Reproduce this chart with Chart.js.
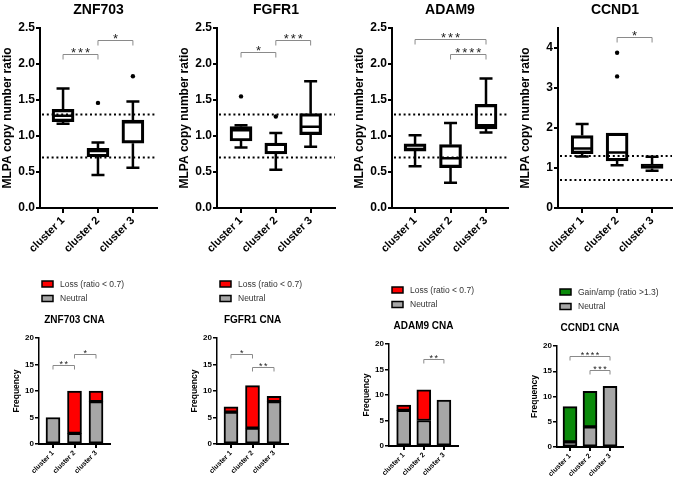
<!DOCTYPE html>
<html>
<head>
<meta charset="utf-8">
<script src="https://cdn.jsdelivr.net/npm/chart.js@4.4.0/dist/chart.umd.min.js"></script>
<style>
html, body { margin: 0; padding: 0; background: #fff; width: 677px; height: 480px; overflow: hidden; position: relative; }
canvas { position: absolute; }
</style>
</head>
<body>
<canvas id="znfBox"></canvas>
<canvas id="fgfBox"></canvas>
<canvas id="adamBox"></canvas>
<canvas id="ccnBox"></canvas>
<canvas id="znfCna"></canvas>
<canvas id="fgfCna"></canvas>
<canvas id="adamCna"></canvas>
<canvas id="ccnCna"></canvas>
<script>
const clusters = ['cluster 1', 'cluster 2', 'cluster 3'];
const cutoffs = [0.7, 1.3];

// MLPA copy number ratio, box stats per cluster
const znf703Min = [1.17, 0.46, 0.56];
const znf703Q1 = [1.20, 0.71, 0.90];
const znf703Med = [1.28, 0.79, 1.19];
const znf703Q3 = [1.37, 0.83, 1.22];
const znf703Max = [1.66, 0.91, 1.48];
const znf703Out = [[], [1.46], [1.83]];

const fgfr1Min = [0.84, 0.53, 0.85];
const fgfr1Q1 = [0.93, 0.75, 1.02];
const fgfr1Med = [1.08, 0.77, 1.13];
const fgfr1Q3 = [1.13, 0.90, 1.31];
const fgfr1Max = [1.15, 1.04, 1.76];
const fgfr1Out = [[1.55], [1.27], []];

const adam9Min = [0.58, 0.35, 1.05];
const adam9Q1 = [0.79, 0.56, 1.10];
const adam9Med = [0.82, 0.69, 1.15];
const adam9Q3 = [0.89, 0.88, 1.44];
const adam9Max = [1.01, 1.18, 1.80];
const adam9Out = [[], [], []];

const ccnd1Min = [1.29, 1.07, 0.93];
const ccnd1Q1 = [1.36, 1.18, 0.99];
const ccnd1Med = [1.49, 1.39, 1.04];
const ccnd1Q3 = [1.81, 1.87, 1.10];
const ccnd1Max = [2.10, 1.87, 1.28];
const ccnd1Out = [[], [3.29, 3.88], []];

// significance brackets: [from, to, y level, stars]
const znf703Sig = [[1, 2, 2.14, '***'], [2, 3, 2.33, '*']];
const fgfr1Sig = [[1, 2, 2.16, '*'], [2, 3, 2.34, '***']];
const adam9Sig = [[1, 3, 2.35, '***'], [2, 3, 2.14, '****']];
const ccnd1Sig = [[2, 3, 4.28, '*']];

// CNA frequencies
const znf703Neutral = [5, 2, 8];
const znf703Loss = [0, 8, 2];
const fgfr1Neutral = [6, 3, 8];
const fgfr1Loss = [1, 8, 1];
const adam9Neutral = [7, 5, 9];
const adam9Loss = [1, 6, 0];
const ccnd1Neutral = [1, 4, 12];
const ccnd1Gain = [7, 7, 0];

const znf703CnaSig = [[1, 2, 15, '**'], [2, 3, 17, '*']];
const fgfr1CnaSig = [[1, 2, 17, '*'], [2, 3, 14.5, '**']];
const adam9CnaSig = [[2, 3, 17, '**']];
const ccnd1CnaSig = [[1, 3, 18, '****'], [2, 3, 15.2, '***']];

const FONT = '"Liberation Sans", Arial, sans-serif';
const GRAY = '#a6a6a6';
const RED = '#ff0000';
const GREEN = '#0a8a0a';

const place = (id, left, top, w, h) => {
    const c = document.getElementById(id);
    c.width = w;
    c.height = h;
    c.style.left = left + 'px';
    c.style.top = top + 'px';
    return c;
}

const sigPlugin = (pairs, tip, size, gap) => ({
    id: 'sig',
    afterDatasetsDraw(chart) {
        const { ctx, scales: { x, y } } = chart;
        ctx.save();
        pairs.forEach(([a, b, v, stars]) => {
            const x1 = x.getPixelForValue(a), x2 = x.getPixelForValue(b), py = Math.round(y.getPixelForValue(v)) + 0.5;
            ctx.strokeStyle = '#8a8a8a';
            ctx.lineWidth = 1;
            ctx.beginPath();
            ctx.moveTo(x1, py + tip);
            ctx.lineTo(x1, py);
            ctx.lineTo(x2, py);
            ctx.lineTo(x2, py + tip);
            ctx.stroke();
            ctx.fillStyle = '#222';
            ctx.font = size + 'px ' + FONT;
            ctx.textAlign = 'center';
            ctx.textBaseline = 'alphabetic';
            const mid = (x1 + x2) / 2;
            const n = stars.length;
            for (let i = 0; i < n; i++) {
                ctx.fillText('*', mid + (i - (n - 1) / 2) * gap, py - 2 + size * 0.35);
            }
        });
        ctx.restore();
    }
})

const cutoffPlugin = {
    id: 'cutoff',
    afterDatasetsDraw(chart) {
        const { ctx, chartArea, scales: { y } } = chart;
        ctx.save();
        ctx.strokeStyle = '#000';
        ctx.lineWidth = 2;
        ctx.setLineDash([2, 2.8]);
        cutoffs.forEach(v => {
            const py = y.getPixelForValue(v);
            ctx.beginPath();
            ctx.moveTo(chartArea.left + 2, py);
            ctx.lineTo(chartArea.right, py);
            ctx.stroke();
        });
        ctx.restore();
    }
}

const whiskerPlugin = (mins, q1s, meds, q3s, maxs) => ({
    id: 'whisker',
    afterDatasetsDraw(chart) {
        const { ctx, scales: { x, y } } = chart;
        ctx.save();
        ctx.strokeStyle = '#000';
        ctx.lineWidth = 2.5;
        ctx.lineCap = 'butt';
        mins.forEach((mn, i) => {
            const px = x.getPixelForValue(i + 1);
            const cap = 6.5, half = 10;
            const yMax = y.getPixelForValue(maxs[i]), yMin = y.getPixelForValue(mn);
            const yQ3 = y.getPixelForValue(q3s[i]), yQ1 = y.getPixelForValue(q1s[i]);
            ctx.beginPath();
            if (yQ3 - yMax > 1) {
                ctx.moveTo(px, yQ3); ctx.lineTo(px, yMax);
                ctx.moveTo(px - cap, yMax); ctx.lineTo(px + cap, yMax);
            }
            if (yMin - yQ1 > 1) {
                ctx.moveTo(px, yQ1); ctx.lineTo(px, yMin);
                ctx.moveTo(px - cap, yMin); ctx.lineTo(px + cap, yMin);
            }
            const ym = y.getPixelForValue(meds[i]);
            ctx.moveTo(px - half, ym); ctx.lineTo(px + half, ym);
            ctx.stroke();
        });
        ctx.restore();
    }
})

const cnaLegend = {
    id: 'cnaLegend',
    afterDraw(chart) {
        const { ctx, chartArea } = chart;
        const items = chart.data.datasets.slice().reverse();
        ctx.save();
        items.forEach((ds, i) => {
            const bx = chartArea.left + 3, by = chartArea.top - 54 + i * 14.5;
            ctx.fillStyle = ds.backgroundColor;
            ctx.fillRect(bx, by - 3, 11, 6);
            ctx.strokeStyle = '#000';
            ctx.lineWidth = 1.5;
            ctx.strokeRect(bx, by - 3, 11, 6);
            ctx.fillStyle = '#333';
            ctx.font = '8.5px ' + FONT;
            ctx.textAlign = 'left';
            ctx.textBaseline = 'middle';
            ctx.fillText(ds.label, bx + 18, by + 0.5);
        });
        ctx.restore();
    }
}

const xAxis = (min, max, fontSize, height, tickLen) => ({
    type: 'linear',
    min: min,
    max: max,
    offset: false,
    afterBuildTicks: s => { s.ticks = [1, 2, 3].map(v => ({ value: v })); },
    afterFit: s => { s.height = height; },
    ticks: {
        autoSkip: false,
        minRotation: 45,
        maxRotation: 45,
        padding: 1,
        color: '#000',
        font: { family: FONT, size: fontSize, weight: 'bold' },
        callback: v => clusters[Math.round(v) - 1]
    },
    grid: { offset: false, drawOnChartArea: false, color: '#000', lineWidth: 2, tickLength: tickLen },
    border: { color: '#000', width: 2 }
})

const createBoxChart = (id, axisX, rightX, name, stats, outliers, sig, xr, yMax, yStep, dec) => {
    const [mins, q1s, meds, q3s, maxs] = stats;
    const canvas = place(id, axisX - 40, 0, rightX - axisX + 48, 255);
    const outPts = outliers.flatMap((arr, i) => arr.map(v => ({ x: i + 1, y: v })));
    new Chart(canvas, {
        type: 'bar',
        data: {
            datasets: [{
                label: name,
                data: q1s.map((q, i) => ({ x: i + 1, y: [q, q3s[i]] })),
                backgroundColor: 'rgba(255,255,255,0)',
                borderColor: '#000',
                borderWidth: 2.5,
                borderSkipped: false,
                barThickness: 22
            }, {
                type: 'scatter',
                label: 'outliers',
                data: outPts,
                pointRadius: 2.2,
                pointBackgroundColor: '#000',
                pointBorderWidth: 0
            }]
        },
        options: {
            responsive: false,
            animation: false,
            layout: { padding: { right: 8, top: 0, left: 0, bottom: 0 } },
            plugins: {
                legend: { display: false },
                tooltip: { enabled: false },
                title: {
                    display: true,
                    text: name,
                    fullSize: false,
                    color: '#000',
                    font: { family: FONT, size: 14, weight: 'bold', lineHeight: 1.2 },
                    padding: { top: 2, bottom: 9.2 }
                }
            },
            scales: {
                x: xAxis(xr[0], xr[1], 11, 47, 5),
                y: {
                    min: 0,
                    max: yMax,
                    afterFit: s => { s.width = 40; },
                    ticks: {
                        stepSize: yStep,
                        includeBounds: false,
                        padding: 1,
                        color: '#000',
                        font: { family: FONT, size: 12, weight: 'bold' },
                        callback: v => v.toFixed(dec)
                    },
                    grid: { drawOnChartArea: false, color: '#000', lineWidth: 2, tickLength: 4 },
                    border: { color: '#000', width: 2 },
                    title: {
                        display: true,
                        text: 'MLPA copy number ratio',
                        color: '#000',
                        padding: 0,
                        font: { family: FONT, size: 12, weight: 'bold' }
                    }
                }
            }
        },
        plugins: [cutoffPlugin, whiskerPlugin(mins, q1s, meds, q3s, maxs), sigPlugin(sig, 5, 13, 7)]
    });
}

const createCnaChart = (id, axisX, rightX, areaTop, areaBottom, name, neutral, change, changeLabel, changeColor, sig, xr) => {
    const top = areaTop - 70;
    const canvas = place(id, axisX - 30, top, rightX - axisX + 100, 480 - top);
    new Chart(canvas, {
        type: 'bar',
        data: {
            datasets: [{
                label: 'Neutral',
                data: neutral.map((v, i) => ({ x: i + 1, y: v })),
                backgroundColor: GRAY,
                borderColor: '#000',
                borderWidth: 2,
                borderSkipped: false,
                barThickness: 14
            }, {
                label: changeLabel,
                data: change.map((v, i) => ({ x: i + 1, y: v })),
                backgroundColor: changeColor,
                borderColor: '#000',
                borderWidth: 2,
                borderSkipped: false,
                barThickness: 14
            }]
        },
        options: {
            responsive: false,
            animation: false,
            layout: { padding: { right: 70, top: 44, left: 0, bottom: 0 } },
            plugins: {
                legend: { display: false },
                tooltip: { enabled: false },
                title: {
                    display: true,
                    text: name,
                    fullSize: false,
                    color: '#000',
                    font: { family: FONT, size: 10, weight: 'bold', lineHeight: 1.2 },
                    padding: { top: 2, bottom: 12 }
                }
            },
            scales: {
                x: Object.assign(xAxis(xr[0], xr[1], 7, 480 - areaBottom, 4), { stacked: true }),
                y: {
                    stacked: true,
                    min: 0,
                    max: 20,
                    afterFit: s => { s.width = 30; },
                    ticks: {
                        stepSize: 5,
                        padding: 1,
                        color: '#000',
                        font: { family: FONT, size: 8, weight: 'bold' }
                    },
                    grid: { drawOnChartArea: false, color: '#000', lineWidth: 1.5, tickLength: 4 },
                    border: { color: '#000', width: 1.5 },
                    title: {
                        display: true,
                        text: 'Frequency',
                        color: '#000',
                        padding: { top: 3, bottom: 0 },
                        font: { family: FONT, size: 8.5, weight: 'bold' }
                    }
                }
            }
        },
        plugins: [sigPlugin(sig, 4, 9, 5), cnaLegend]
    });
}

createBoxChart('znfBox', 40, 157, 'ZNF703',
    [znf703Min, znf703Q1, znf703Med, znf703Q3, znf703Max], znf703Out, znf703Sig, [0.34, 3.69], 2.5, 0.5, 1);
createBoxChart('fgfBox', 217, 335, 'FGFR1',
    [fgfr1Min, fgfr1Q1, fgfr1Med, fgfr1Q3, fgfr1Max], fgfr1Out, fgfr1Sig, [0.31, 3.7], 2.5, 0.5, 1);
createBoxChart('adamBox', 392, 508, 'ADAM9',
    [adam9Min, adam9Q1, adam9Med, adam9Q3, adam9Max], adam9Out, adam9Sig, [0.35, 3.62], 2.5, 0.5, 1);
createBoxChart('ccnBox', 558, 672, 'CCND1',
    [ccnd1Min, ccnd1Q1, ccnd1Med, ccnd1Q3, ccnd1Max], ccnd1Out, ccnd1Sig, [0.31, 3.57], 4.5, 1, 0);

createCnaChart('znfCna', 39, 110, 338, 444, 'ZNF703 CNA', znf703Neutral, znf703Loss, 'Loss (ratio < 0.7)', RED, znf703CnaSig, [0.35, 3.65]);
createCnaChart('fgfCna', 217, 288, 338, 444, 'FGFR1 CNA', fgfr1Neutral, fgfr1Loss, 'Loss (ratio < 0.7)', RED, fgfr1CnaSig, [0.35, 3.65]);
createCnaChart('adamCna', 389, 458, 344, 446, 'ADAM9 CNA', adam9Neutral, adam9Loss, 'Loss (ratio < 0.7)', RED, adam9CnaSig, [0.27, 3.7]);
createCnaChart('ccnCna', 557, 623, 346, 447, 'CCND1 CNA', ccnd1Neutral, ccnd1Gain, 'Gain/amp (ratio >1.3)', GREEN, ccnd1CnaSig, [0.35, 3.65]);
</script>
</body>
</html>
